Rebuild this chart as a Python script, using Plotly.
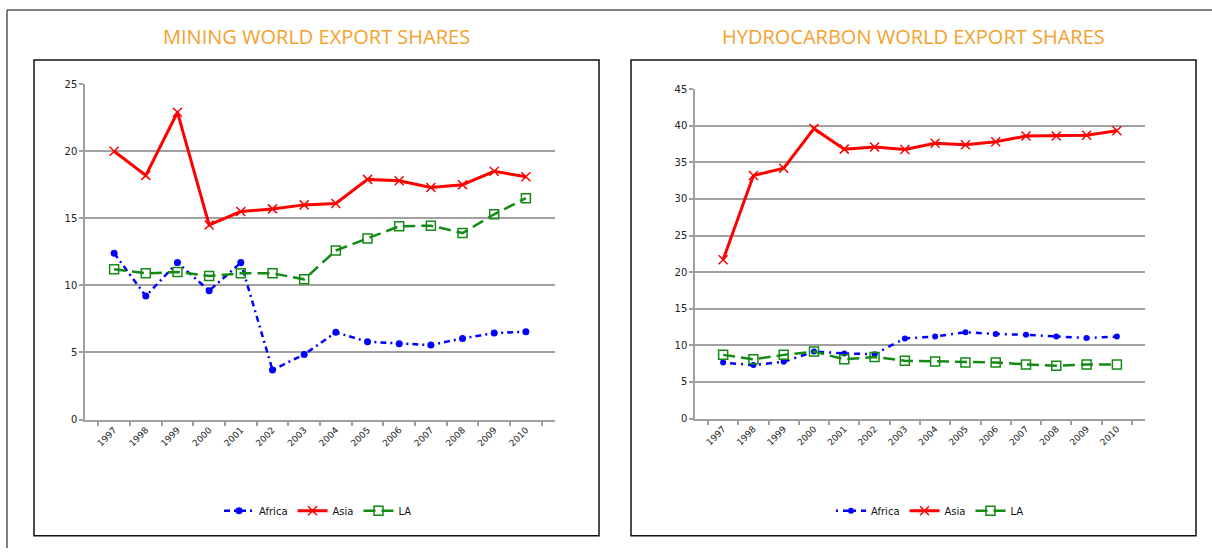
import plotly.graph_objects as go

W, H = 1212, 554

years = [str(y) for y in range(1997, 2011)]

# Mining world export shares
mining_africa = [12.4, 9.2, 11.7, 9.6, 11.7, 3.7, 4.85, 6.5, 5.8, 5.65, 5.55, 6.05, 6.45, 6.55]
mining_asia = [20.0, 18.2, 22.9, 14.5, 15.5, 15.7, 16.0, 16.1, 17.9, 17.8, 17.3, 17.5, 18.5, 18.1]
mining_la = [11.2, 10.9, 11.0, 10.7, 10.9, 10.9, 10.45, 12.6, 13.5, 14.4, 14.45, 13.9, 15.3, 16.5]

# Hydrocarbon world export shares
hydro_africa = [7.65, 7.3, 7.75, 9.15, 8.9, 8.8, 10.95, 11.2, 11.8, 11.55, 11.45, 11.2, 11.0, 11.2]
hydro_asia = [21.7, 33.2, 34.2, 39.6, 36.8, 37.1, 36.75, 37.6, 37.4, 37.8, 38.6, 38.6, 38.7, 39.3]
hydro_la = [8.7, 8.1, 8.7, 9.15, 8.1, 8.4, 7.9, 7.8, 7.65, 7.65, 7.4, 7.2, 7.4, 7.4]

titles = ["MINING WORLD EXPORT SHARES", "HYDROCARBON WORLD EXPORT SHARES"]
series_names = ["Africa", "Asia", "LA"]

BLUE = "#0000FF"
RED = "#FF0000"
GREEN = "#138A13"
GRID = "#A0A0A0"
ORANGE = "#F5A12E"


def px_x(p):
    return p / W


def px_y(p):
    # vertical placement calibrated against the rendered output
    q = (p - 5) / 0.977
    return 1 - q / H


fig = go.Figure()

panels = [
    dict(xa="x", ya="y", legend="legend", data=[mining_africa, mining_asia, mining_la],
         africa_dash="6px,4px,2px,4px", africa_size=7),
    dict(xa="x2", ya="y2", legend="legend2", data=[hydro_africa, hydro_asia, hydro_la],
         africa_dash="2px,5px,6px,5px", africa_size=6),
]

for p in panels:
    africa, asia, la = p["data"]
    fig.add_trace(go.Scatter(
        x=years, y=africa, name=series_names[0], xaxis=p["xa"], yaxis=p["ya"], legend=p["legend"],
        mode="lines+markers",
        line=dict(color=BLUE, width=2.5, dash=p["africa_dash"]),
        marker=dict(symbol="circle", size=p["africa_size"], color=BLUE),
    ))
    fig.add_trace(go.Scatter(
        x=years, y=asia, name=series_names[1], xaxis=p["xa"], yaxis=p["ya"], legend=p["legend"],
        mode="lines+markers",
        line=dict(color=RED, width=3),
        marker=dict(symbol="x-thin", size=9, color=RED, line=dict(color=RED, width=1.5)),
    ))
    fig.add_trace(go.Scatter(
        x=years, y=la, name=series_names[2], xaxis=p["xa"], yaxis=p["ya"], legend=p["legend"],
        mode="lines+markers",
        line=dict(color=GREEN, width=2.5, dash="12px,6px"),
        marker=dict(symbol="square-open", size=9, color=GREEN, line=dict(color=GREEN, width=1.5)),
    ))

xaxis_common = dict(
    type="category", tickson="boundaries", ticks="outside", ticklen=5, tickcolor=GRID,
    tickwidth=1.5, showgrid=False, showline=True, linecolor=GRID, linewidth=1.5,
    tickangle=-45, tickfont=dict(family="DejaVu Sans", size=9, color="#222222"),
    fixedrange=True,
)
yaxis_common = dict(
    dtick=5, ticks="outside", ticklen=4, tickcolor=GRID, tickwidth=1.5,
    showgrid=True, gridcolor=GRID, gridwidth=1.5, showline=True, linecolor=GRID, linewidth=1.5,
    zeroline=False, tickfont=dict(family="DejaVu Sans", size=10, color="#222222"),
    fixedrange=True,
)

fig.update_layout(
    width=W, height=H,
    margin=dict(l=0, r=0, t=0, b=0),
    paper_bgcolor="white", plot_bgcolor="white",
    xaxis=dict(domain=[px_x(85), px_x(555)], anchor="y", **xaxis_common),
    yaxis=dict(domain=[px_y(418), px_y(83)], anchor="x", range=[0, 25], **yaxis_common),
    xaxis2=dict(domain=[px_x(695), px_x(1145)], anchor="y2", **xaxis_common),
    yaxis2=dict(domain=[px_y(417), px_y(88)], anchor="x2", range=[0, 45], **yaxis_common),
    legend=dict(orientation="h", x=px_x(318), xanchor="center", y=px_y(509), yanchor="middle",
                font=dict(family="DejaVu Sans", size=10, color="#111111"),
                itemwidth=30, bgcolor="rgba(0,0,0,0)", tracegroupgap=0),
    legend2=dict(orientation="h", x=px_x(930), xanchor="center", y=px_y(509), yanchor="middle",
                 font=dict(family="DejaVu Sans", size=10, color="#111111"),
                 itemwidth=30, bgcolor="rgba(0,0,0,0)", tracegroupgap=0),
    showlegend=True,
    hovermode=False,
)

# panel boxes and outer frame
shapes = [
    dict(type="rect", xref="paper", yref="paper", x0=px_x(34), x1=px_x(599), y0=px_y(534), y1=px_y(59),
         line=dict(color="#111111", width=1.5)),
    dict(type="rect", xref="paper", yref="paper", x0=px_x(631), x1=px_x(1196), y0=px_y(534), y1=px_y(59),
         line=dict(color="#111111", width=1.5)),
    dict(type="line", xref="paper", yref="paper", x0=px_x(7), x1=1, y0=px_y(9), y1=px_y(9),
         line=dict(color="#555555", width=1.5)),
    dict(type="line", xref="paper", yref="paper", x0=px_x(7), x1=px_x(7), y0=0, y1=px_y(9),
         line=dict(color="#555555", width=1.5)),
]
fig.update_layout(shapes=shapes)

annotations = [
    dict(text=titles[0], xref="paper", yref="paper", x=px_x(316), y=px_y(35), xanchor="center",
         yanchor="middle", showarrow=False, font=dict(family="Open Sans", size=20, color=ORANGE)),
    dict(text=titles[1], xref="paper", yref="paper", x=px_x(913), y=px_y(35), xanchor="center",
         yanchor="middle", showarrow=False, font=dict(family="Open Sans", size=20, color=ORANGE)),
]
fig.update_layout(annotations=annotations)

post = (
    "document.documentElement.style.margin='0';"
    "document.documentElement.style.height='554px';"
    "document.documentElement.style.overflow='hidden';"
    "document.body.style.margin='0';"
    "document.body.style.padding='0';"
    "document.body.style.height='554px';"
    "document.body.style.overflow='hidden';"
    "var gd=document.getElementById('{plot_id}');"
    "gd.style.position='fixed';gd.style.top='0px';gd.style.left='0px';"
)

fig.write_html("out.html", config=dict(displayModeBar=False), post_script=post)
